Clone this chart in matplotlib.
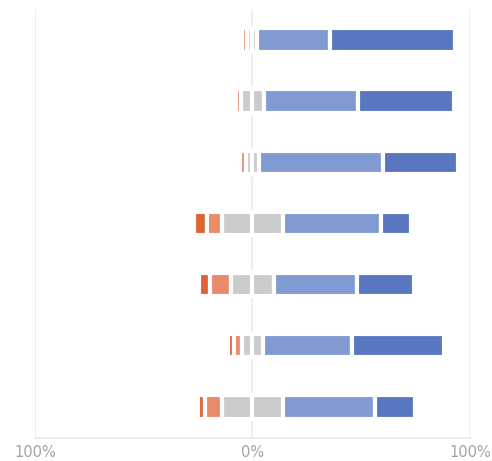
import matplotlib.pyplot as plt
import numpy as np

# Likert-style shares per question, in %, top row first
strongly_disagree = [0.3, 0.4, 0.4, 5.7, 5.1, 2.8, 3.2]
disagree = [2.7, 2.4, 2.4, 7.1, 9.7, 3.7, 8.0]
neutral = [4.6, 10.5, 6.4, 27.8, 19.8, 9.6, 27.8]
agree = [33.3, 43.4, 56.8, 45.3, 38.2, 41.1, 42.5]
strongly_agree = [57.7, 43.9, 34.3, 13.6, 26.2, 42.1, 18.2]

tick_values = [-100, 0, 100]
tick_labels = ["100%", "0%", "100%"]

colors = ["#de6330", "#e98a6b", "#cacbcd", "#cacbcd", "#7f9bd1", "#5877c0"]

sd = np.array(strongly_disagree)
d = np.array(disagree)
n = np.array(neutral)
a = np.array(agree)
sa = np.array(strongly_agree)

# neutral is split evenly around zero
segments = [sd, d, n / 2, n / 2, a, sa]
start = -(sd + d + n / 2)
y = np.arange(len(sd))

fig = plt.figure(figsize=(4.92, 4.61), dpi=100)
ax = fig.add_axes([0.0711, 0.0508, 0.8841, 0.9289])

left = start.copy()
for seg, col in zip(segments, colors):
    ax.barh(y, seg, left=left, height=0.38, color=col,
            edgecolor="white", linewidth=3, zorder=3)
    left = left + seg

for xv in tick_values:
    ax.axvline(xv, color="#e7ebeb", linewidth=1.2, zorder=1)

ax.set_xlim(-100, 100)
ax.set_ylim(len(sd) - 0.5, -0.5)
ax.set_xticks(tick_values)
ax.set_xticklabels(tick_labels, color="#a3a3a3", fontsize=10.5)
ax.tick_params(axis="x", length=0, pad=5)
ax.set_yticks([])
for side in ["top", "left", "right"]:
    ax.spines[side].set_visible(False)
ax.spines["bottom"].set_color("#e7ebeb")
ax.spines["bottom"].set_linewidth(1.2)

plt.savefig("out.png", dpi=100)
plt.close()
